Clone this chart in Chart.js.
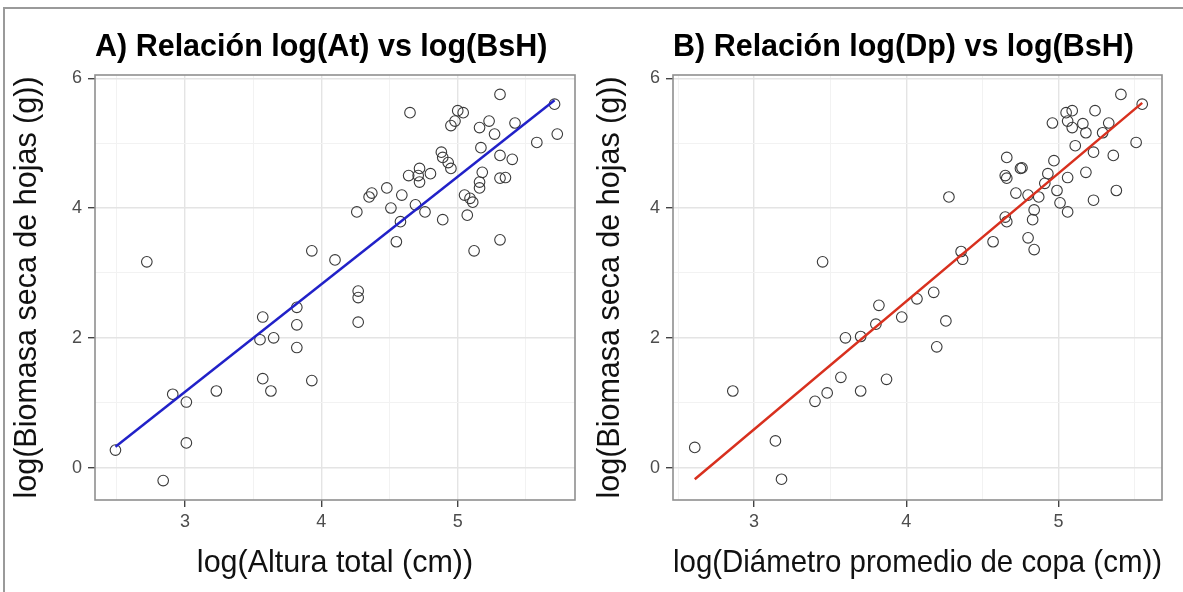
<!DOCTYPE html>
<html><head><meta charset="utf-8">
<script src="https://cdn.jsdelivr.net/npm/chart.js@4.4.1/dist/chart.umd.min.js"></script>
<style>
html,body{margin:0;padding:0;background:#fff;overflow:hidden;width:1183px;height:592px;position:relative;}
#frame{position:absolute;left:3px;top:7px;width:1200px;height:600px;border:2px solid #9a9a9a;box-sizing:border-box;}
canvas{position:absolute;top:0;}
#cA{left:0px;} #cB{left:585px;}
</style></head><body>
<div id="frame"></div>
<canvas id="cA" width="590" height="592"></canvas>
<canvas id="cB" width="598" height="592"></canvas>
<script>
// ---- texts ----
const titleA = 'A) Relación log(At) vs log(BsH)';
const titleB = 'B) Relación log(Dp) vs log(BsH)';
const xLabelA = 'log(Altura total (cm))';
const xLabelB = 'log(Diámetro promedio de copa (cm))';
const yLabel = 'log(Biomasa seca de hojas (g))';

// ---- tick values ----
const xMajor = [3, 4, 5];
const xMinorA = [2.5, 3.5, 4.5, 5.5];
const xMinorB = [2.5, 3.5, 4.5, 5.5];
const yMajor = [0, 2, 4, 6];
const yMinor = [1, 3, 5];

// ---- panel A data: log(At) vs log(BsH) ----
const xA = [2.49,2.72,2.84,2.91,3.01,3.01,3.23,3.57,3.55,3.65,3.57,3.63,3.82,3.82,3.82,3.93,3.93,4.10,4.27,4.27,4.27,5.31,5.71,4.65,5.00,5.04,4.98,4.95,5.16,5.23,5.42,5.27,5.73,5.58,5.17,5.31,5.40,4.88,4.89,4.93,4.95,4.72,4.80,4.71,4.64,4.72,5.18,5.16,5.16,5.31,5.35,4.48,4.37,4.35,4.59,5.05,5.09,5.11,4.26,4.51,4.69,4.76,4.58,4.89,5.07,4.55,5.12,5.31];
const yA = [0.27,3.17,-0.20,1.13,1.01,0.38,1.18,2.32,1.97,2.00,1.37,1.18,2.47,2.20,1.85,1.34,3.34,3.20,2.72,2.62,2.24,5.75,5.60,5.47,5.50,5.47,5.34,5.27,5.24,5.34,5.31,5.14,5.14,5.01,4.93,4.81,4.75,4.86,4.78,4.70,4.61,4.61,4.53,4.50,4.50,4.40,4.55,4.40,4.31,4.46,4.47,4.31,4.23,4.17,4.20,4.20,4.15,4.09,3.94,4.00,4.05,3.94,3.79,3.82,3.89,3.48,3.34,3.51];
const fitAx = [2.49, 5.71];
const fitAy = [0.32, 5.66];

// ---- panel B data: log(Dp) vs log(BsH) ----
const xB = [2.61,3.18,2.86,3.14,3.40,3.48,3.57,3.70,3.87,3.60,3.70,3.80,3.82,3.97,4.28,4.36,4.37,4.57,4.65,4.66,4.66,4.65,4.66,4.75,4.76,4.72,4.80,4.87,4.84,4.83,4.80,4.84,4.91,4.93,4.97,4.99,5.06,5.01,5.06,4.96,5.05,5.09,5.06,5.09,5.16,5.18,5.11,5.18,5.23,5.23,5.24,5.33,5.29,5.36,5.38,5.41,5.51,5.55,4.18,4.07,4.26,4.20,3.45];
const yB = [0.31,-0.18,1.18,0.41,1.02,1.15,1.39,1.18,1.36,2.00,2.02,2.21,2.50,2.32,4.17,3.33,3.21,3.48,3.86,3.79,4.78,4.50,4.46,4.61,4.62,4.23,4.20,4.17,3.97,3.82,3.54,3.36,4.38,4.53,4.73,4.27,4.47,4.08,3.94,5.31,5.47,5.50,5.34,5.24,5.30,5.16,4.96,4.55,4.86,4.12,5.50,5.31,5.16,4.81,4.27,5.75,5.01,5.60,2.70,2.60,2.26,1.86,3.17];
const fitBx = [2.61, 5.55];
const fitBy = [-0.18, 5.62];

const FONT = "'Liberation Sans', Arial, Helvetica, sans-serif";

// panel border (ggplot theme_bw style box)
const panelBorder = {
  id: 'panelBorder',
  afterDraw(chart) {
    const {ctx, chartArea: a} = chart;
    ctx.save();
    ctx.strokeStyle = '#8f8f8f';
    ctx.lineWidth = 1.6;
    ctx.strokeRect(a.left, a.top, a.right - a.left, a.bottom - a.top);
    ctx.restore();
  }
};

// title left-aligned with the panel, as ggplot does
const panelTitle = {
  id: 'panelTitle',
  afterDraw(chart, args, opts) {
    const {ctx, chartArea: a} = chart;
    ctx.save();
    ctx.font = 'bold ' + opts.size + 'px ' + FONT;
    ctx.fillStyle = '#000';
    ctx.textAlign = 'left';
    ctx.textBaseline = 'middle';
    ctx.fillText(opts.text, a.left, opts.y);
    ctx.restore();
  }
};

function makePanel(id, o) {
  const isMajX = v => o.xMajor.includes(v);
  const isMajY = v => yMajor.includes(v);
  const pts = o.xs.map((x, i) => ({x: x, y: o.ys[i]}));
  const fit = o.fx.map((x, i) => ({x: x, y: o.fy[i]}));
  return new Chart(document.getElementById(id), {
    type: 'scatter',
    data: {datasets: [
      {type: 'line', data: fit, borderColor: o.lineColor, borderWidth: 2.5, pointRadius: 0, fill: false, order: 0},
      {data: pts, pointStyle: 'circle', pointRadius: 5.3, backgroundColor: 'rgba(0,0,0,0)', borderColor: '#3a3a3a', borderWidth: 1.1, order: 1}
    ]},
    options: {
      responsive: false, animation: false, devicePixelRatio: 1,
      layout: {padding: {left: 0, right: o.padRight, top: 75, bottom: 0}},
      plugins: {
        legend: {display: false}, tooltip: {enabled: false}, title: {display: false},
        panelTitle: {text: o.title, size: 30.5, y: 48}
      },
      scales: {
        x: {
          type: 'linear', min: o.xMin, max: o.xMax,
          afterBuildTicks: s => { s.ticks = o.xMajor.concat(o.xMinor).sort((a, b) => a - b).map(v => ({value: v})); },
          afterFit: s => { s.height = 92; },
          ticks: {autoSkip: false, maxRotation: 0, padding: 4, color: '#4d4d4d', font: {family: FONT, size: 18},
                  callback: v => isMajX(v) ? String(v) : ''},
          grid: {color: c => isMajX(c.tick.value) ? '#e4e4e4' : '#f2f2f2', lineWidth: c => isMajX(c.tick.value) ? 1.4 : 1,
                 tickColor: c => isMajX(c.tick.value) ? '#444' : 'rgba(0,0,0,0)', tickLength: 7},
          border: {display: false},
          title: {display: true, text: o.xLabel, color: '#111', font: {family: FONT, size: 30.5}, padding: {top: 2, bottom: 10}}
        },
        y: {
          type: 'linear', min: -0.5, max: 6.05,
          afterBuildTicks: s => { s.ticks = yMajor.concat(yMinor).sort((a, b) => a - b).map(v => ({value: v})); },
          afterFit: s => { s.width = o.yWidth; },
          ticks: {autoSkip: false, padding: 6, color: '#4d4d4d', font: {family: FONT, size: 18},
                  callback: v => isMajY(v) ? String(v) : ''},
          grid: {color: c => isMajY(c.tick.value) ? '#e4e4e4' : '#f2f2f2', lineWidth: c => isMajY(c.tick.value) ? 1.4 : 1,
                 tickColor: c => isMajY(c.tick.value) ? '#444' : 'rgba(0,0,0,0)', tickLength: 7},
          border: {display: false},
          title: {display: true, text: yLabel, color: '#111', font: {family: FONT, size: 30.5}, padding: {top: o.yTitlePad, bottom: 2}}
        }
      }
    },
    plugins: [panelBorder, panelTitle]
  });
}

makePanel('cA', {title: titleA, xLabel: xLabelA, xs: xA, ys: yA, fx: fitAx, fy: fitAy, lineColor: '#2121c8',
  xMin: 2.34, xMax: 5.86, xMajor: xMajor, xMinor: xMinorA, padRight: 15, yWidth: 95, yTitlePad: 9});
makePanel('cB', {title: titleB, xLabel: xLabelB, xs: xB, ys: yB, fx: fitBx, fy: fitBy, lineColor: '#d8301e',
  xMin: 2.467, xMax: 5.68, xMajor: xMajor, xMinor: xMinorB, padRight: 21, yWidth: 88, yTitlePad: 7});
</script>
</body></html>
